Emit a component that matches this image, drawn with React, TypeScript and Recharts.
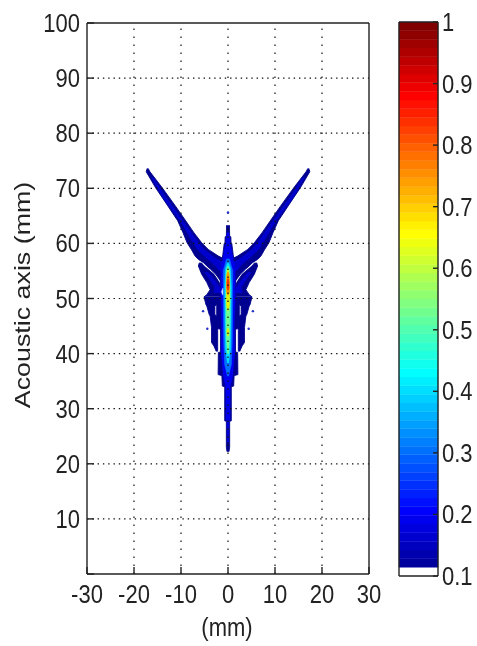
import React from 'react';
import { ComposedChart, BarChart, Bar, Area, Scatter, XAxis, YAxis, ReferenceLine } from 'recharts';

const xTicks = [-30, -20, -10, 0, 10, 20, 30];
const yTicks = [0, 10, 20, 30, 40, 50, 60, 70, 80, 90, 100];
const yLabels = [10, 20, 30, 40, 50, 60, 70, 80, 90, 100];
const xGrid = [-20, -10, 0, 10, 20];
const yGrid = [10, 20, 30, 40, 50, 60, 70, 80, 90];
const barTicks = [0.1, 0.2, 0.3, 0.4, 0.5, 0.6, 0.7, 0.8, 0.9, 1];

const jet = ['#FFFFFF','#00009F','#0000AF','#0000BF','#0000CF','#0000DF','#0000EF','#0000FF',
  '#0010FF','#0020FF','#0030FF','#0040FF','#0050FF','#0060FF','#0070FF','#0080FF',
  '#008FFF','#009FFF','#00AFFF','#00BFFF','#00CFFF','#00DFFF','#00EFFF','#00FFFF',
  '#10FFEF','#20FFDF','#30FFCF','#40FFBF','#50FFAF','#60FF9F','#70FF8F','#80FF80',
  '#8FFF70','#9FFF60','#AFFF50','#BFFF40','#CFFF30','#DFFF20','#EFFF10','#FFFF00',
  '#FFEF00','#FFDF00','#FFCF00','#FFBF00','#FFAF00','#FF9F00','#FF8F00','#FF8000',
  '#FF7000','#FF6000','#FF5000','#FF4000','#FF3000','#FF2000','#FF1000','#FF0000',
  '#EF0000','#DF0000','#CF0000','#BF0000','#AF0000','#9F0000','#8F0000','#800000'];
const bandStep = 0.0140625;

// [axial mm, low x, high x]
type Row = [number, number, number];
const wingLeft: Row[] = [
  [73.6,-17.2,-17.0],[73,-17.4,-16.6],[70.1,-15.4,-14.0],[66.8,-12.8,-11.2],[64.1,-10.7,-9.0],[62,-9.6,-7.3],
  [60.1,-8.7,-5.6],[58.9,-7.8,-4.2],[57.7,-7.0,-2.05],[57.1,-6.3,-0.6],[56.5,-5.2,-0.3],[55.9,-4.5,-0.3],
  [55.3,-3.7,-0.3],[54.4,-2.6,-0.3],[53.2,-1.6,-0.3],[51.6,-1.0,-0.3],
];
const wingCoreLeft: Row[] = [
  [72,-16.3,-16.0],[68,-13.6,-12.9],[64,-10.1,-9.5],[61,-8.0,-7.0],[59,-6.6,-5.2],[57.5,-4.8,-3],[56.2,-3,-0.5],[55,-1.8,-0.5],
];
const branchLeft: Row[] = [
  [56.5,-6.1,-5.7],[55.9,-6.3,-5.1],[54.4,-5.6,-3.0],[52.9,-4.5,-1.85],[51.6,-3.8,-1.35],[50.7,-4.5,-1.2],[50.3,-5.1,-1.2],
];
const branchCoreLeft: Row[] = [
  [54.8,-5.0,-4.3],[53.4,-3.8,-2.9],[52,-2.8,-1.8],[51,-3.0,-1.5],
];
const spikeLeft: Row[] = [
  [40.4,-2.5,-2.2],[41.4,-3.0,-2.2],[42,-3.5,-2.2],[44.7,-3.5,-2.2],[46.8,-3.8,-2.4],[47.1,-4.0,-2.8],
  [48.6,-4.5,-2.8],[48.9,-4.7,-2.4],[50.3,-5.1,-1.5],
];
const stem: Row[] = [
  [22.2,-0.2,0.2],[23,-0.35,0.35],[27.7,-0.35,0.35],[27.8,-0.7,0.7],[34,-0.7,0.7],[34.1,-1.2,1.2],[36,-1.3,1.3],[36.2,-2.1,2.1],
  [40.2,-2.05,2.05],[40.3,-1.6,1.6],[44.4,-1.6,1.6],[44.6,-2.4,2.4],[49,-2.4,2.4],[50,-1.7,1.7],[54,-1.6,1.6],[56,-1.4,1.4],[58,-1.1,1.1],
  [60,-0.8,0.8],[60.1,-0.65,0.65],[61.2,-0.6,0.6],[61.3,-0.35,0.35],[63.3,-0.3,0.3],
];
const stemRightOnlySlit: Row[] = [];
const heatBlue: Row[] = [
  [24,-0.1,0.1],[27.8,-0.15,0.15],[28,-0.4,0.4],[34,-0.45,0.45],[36,-1.0,1.0],[40,-1.4,1.4],[45,-1.3,1.3],[50,-1.5,1.5],
  [55,-1.5,1.5],[58,-0.9,0.9],[60,-0.5,0.5],[62,-0.15,0.15],
];
const glare: Row[] = [
  [51.9,-1.1,-0.8],[51.2,-1.4,-0.7],[50.6,-1.1,-0.8],
];
const heatMid: Row[] = [
  [35.9,-0.1,0.1],[38,-0.7,0.7],[42,-0.9,0.9],[50,-1.0,1.0],[55,-1.0,1.0],[57.2,-0.3,0.3],
];
const heatCyan: Row[] = [
  [38.3,-0.1,0.1],[41,-0.55,0.55],[48,-0.65,0.65],[52,-0.7,0.7],[55.5,-0.5,0.5],[56.5,-0.1,0.1],
];
const heatGreen: Row[] = [
  [40,-0.1,0.1],[43,-0.35,0.35],[50,-0.45,0.45],[55,-0.35,0.35],[55.8,-0.1,0.1],
];
const heatYellowLow: Row[] = [
  [43.2,-0.05,0.05],[44,-0.25,0.25],[44.6,-0.05,0.05],
];
const heatYellow: Row[] = [
  [47.8,-0.05,0.05],[48.8,-0.28,0.28],[50,-0.3,0.3],[54,-0.3,0.3],[55.2,-0.05,0.05],
];
const heatOrange: Row[] = [
  [50.6,-0.05,0.05],[51.2,-0.28,0.28],[53,-0.32,0.32],[54.2,-0.22,0.22],[54.8,-0.05,0.05],
];
const heatRed: Row[] = [
  [51.5,-0.05,0.05],[52,-0.2,0.2],[53,-0.2,0.2],[53.6,-0.05,0.05],
];
const specks = [
  { x: 0, y: 65.6 }, { x: -5.3, y: 47.7 }, { x: 5.3, y: 47.7 }, { x: -4.4, y: 44.5 }, { x: 4.4, y: 44.5 },
];

const rows = (r: Row[]) => r.map(([y, lo, hi]) => ({ y, r: [lo, hi] }));
const mirror = (r: Row[]): Row[] => r.map(([y, lo, hi]) => [y, -hi, -lo] as Row);

const DARK = '#000090';
const CORE = '#0000CF';
const layers: { name: string; data: Row[]; fill: string; edge: number }[] = [
  { name: 'wingL', data: wingLeft, fill: DARK, edge: 0.9 },
  { name: 'wingR', data: mirror(wingLeft), fill: DARK, edge: 0.9 },
  { name: 'branchL', data: branchLeft, fill: DARK, edge: 0.9 },
  { name: 'branchR', data: mirror(branchLeft), fill: DARK, edge: 0.9 },
  { name: 'spikeL', data: spikeLeft, fill: DARK, edge: 0.9 },
  { name: 'spikeR', data: mirror(spikeLeft), fill: DARK, edge: 0.9 },
  { name: 'stem', data: stem, fill: DARK, edge: 0.9 },
  { name: 'coreL', data: wingCoreLeft, fill: CORE, edge: 0.6 },
  { name: 'coreR', data: mirror(wingCoreLeft), fill: CORE, edge: 0.6 },
  { name: 'bcoreL', data: branchCoreLeft, fill: CORE, edge: 0.6 },
  { name: 'bcoreR', data: mirror(branchCoreLeft), fill: CORE, edge: 0.6 },
  { name: 'blue', data: heatBlue, fill: '#0000EF', edge: 0.6 },
  { name: 'glare', data: glare, fill: '#E8F0FF', edge: 0.4 },
  { name: 'mid', data: heatMid, fill: '#0070FF', edge: 0.6 },
  { name: 'cyan', data: heatCyan, fill: '#00E0FF', edge: 0.6 },
  { name: 'green', data: heatGreen, fill: '#70FF8F', edge: 0.6 },
  { name: 'yellowLow', data: heatYellowLow, fill: '#E8F000', edge: 0.6 },
  { name: 'yellow', data: heatYellow, fill: '#E8F000', edge: 0.6 },
  { name: 'orange', data: heatOrange, fill: '#FF9000', edge: 0.6 },
  { name: 'red', data: heatRed, fill: '#F03000', edge: 0.6 },
];

const FONT = 'Liberation Sans';
const TXT = '#222';
const FS = 22;
const axisLine = { stroke: '#222', strokeWidth: 1.4 };

function Stretched({ x, y, anchor, children }: { x: number; y: number; anchor: string; children: React.ReactNode }) {
  return (
    <text transform={`translate(${x},${y}) scale(1,1.18)`} textAnchor={anchor as any}
      fontFamily={FONT} fontSize={FS} fill={TXT}>{children}</text>
  );
}
const xTick = (p: any) => <Stretched x={p.x} y={p.y + 20} anchor="middle">{p.payload.value}</Stretched>;
const yTick = (p: any) => (
  <Stretched x={p.x} y={p.y + 9} anchor="end">{yLabels.includes(p.payload.value) ? p.payload.value : ''}</Stretched>
);
const barTick = (p: any) => <Stretched x={p.x} y={p.y + 9} anchor="start">{p.payload.value}</Stretched>;

const barRow = [{ name: 'c', base: 0.1, ...Object.fromEntries(jet.map((_, i) => [`b${i}`, bandStep])) }];

export default function App() {
  return (
    <div style={{ position: 'absolute', left: 0, top: 0, width: 477, height: 646, background: '#fff', filter: 'blur(0.45px)' }}>
      <div style={{ position: 'absolute', left: 0, top: 0 }}>
        <ComposedChart layout="vertical" width={477} height={646} margin={{ top: 22, right: 107, bottom: 0, left: 0 }}>
          <XAxis type="number" dataKey="x" domain={[-30, 30]} ticks={xTicks} interval={0} height={72}
            tickSize={-7} tickMargin={16} tick={xTick} axisLine={axisLine} tickLine={axisLine}
            allowDuplicatedCategory={false}
            label={{ content: () => (
              <Stretched x={227} y={636} anchor="middle">(mm)</Stretched>
            ) }} />
          <XAxis xAxisId="top" orientation="top" type="number" domain={[-30, 30]} ticks={xTicks} interval={0} height={1}
            tickSize={-7} tick={false} axisLine={axisLine} tickLine={axisLine} />
          <YAxis type="number" dataKey="y" reversed domain={[0, 100]} ticks={yTicks} interval={0} width={87}
            tickSize={-7} tickMargin={14} tick={yTick} axisLine={axisLine} tickLine={axisLine}
            allowDuplicatedCategory={false}
            label={{ content: () => (
              <text transform="translate(30,295) rotate(-90) scale(1.22,1)" textAnchor="middle"
                fontFamily={FONT} fontSize={FS} fill={TXT}>Acoustic axis (mm)</text>
            ) }} />
          <YAxis yAxisId="right" orientation="right" reversed type="number" domain={[0, 100]} ticks={yTicks} interval={0} width={1}
            tickSize={-7} tick={false} axisLine={axisLine} tickLine={axisLine} />
          {layers.map((l) => (
            <Area key={l.name} data={rows(l.data)} dataKey="r" type="linear" fill={l.fill} fillOpacity={1}
              stroke={l.fill} strokeWidth={l.edge} dot={false} activeDot={false} isAnimationActive={false} legendType="none" />
          ))}
          <Scatter data={specks} dataKey="x" fill="#2030D0" isAnimationActive={false}
            shape={(p: any) => <circle cx={p.cx} cy={p.cy} r={1.2} fill="#2030D0" />} />
          {xGrid.map((x) => (
            <ReferenceLine key={`gx${x}`} x={x} stroke="#111" strokeWidth={1.2} strokeDasharray="1.4 6.6" />
          ))}
          {yGrid.map((y) => (
            <ReferenceLine key={`gy${y}`} y={y} stroke="#111" strokeWidth={1.2} strokeDasharray="1.4 3.9" />
          ))}
        </ComposedChart>
      </div>
      <div style={{ position: 'absolute', left: 0, top: 0 }}>
        <BarChart width={477} height={646} data={barRow} barCategoryGap={0} stackOffset="none"
          margin={{ top: 21, right: 0, bottom: 69, left: 398 }}>
          <XAxis dataKey="name" height={1} tick={false} tickLine={false} axisLine={axisLine} />
          <XAxis xAxisId="top" orientation="top" dataKey="name" height={1} tick={false} tickLine={false} axisLine={axisLine} />
          <YAxis orientation="right" type="number" domain={[0.1, 1]} allowDataOverflow ticks={barTicks} interval={0} width={39}
            tickSize={-5} tickMargin={9} tick={barTick} axisLine={axisLine} tickLine={axisLine} />
          <YAxis yAxisId="left" orientation="left" type="number" domain={[0.1, 1]} allowDataOverflow ticks={barTicks} interval={0} width={1}
            tickSize={-5} tick={false} axisLine={axisLine} tickLine={axisLine} />
          <Bar dataKey="base" stackId="s" fill="none" isAnimationActive={false} />
          {jet.map((c, i) => (
            <Bar key={i} dataKey={`b${i}`} stackId="s" fill={c} stroke={c} strokeWidth={0.4} isAnimationActive={false} />
          ))}
        </BarChart>
      </div>
    </div>
  );
}
